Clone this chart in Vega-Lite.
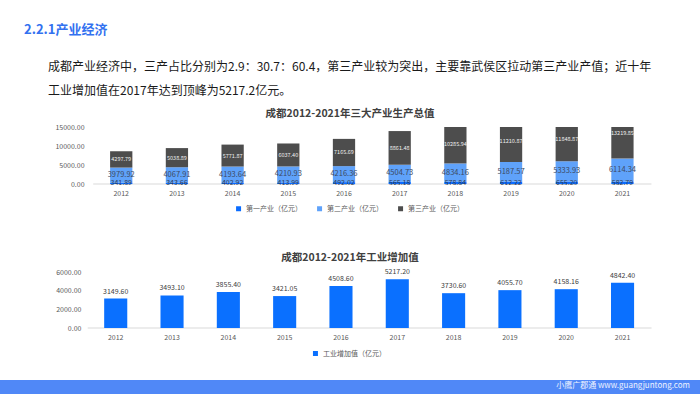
{
  "$schema": "https://vega.github.io/schema/vega-lite/v6.json",
  "padding": {"left": 0, "right": 0, "top": 24, "bottom": 0},
  "background": "white",
  "datasets": {
    "gdp": [
      {"year": "2012", "industry": "第一产业（亿元）", "value": 341.89},
      {"year": "2012", "industry": "第二产业（亿元）", "value": 3979.92},
      {"year": "2012", "industry": "第三产业（亿元）", "value": 4297.79},
      {"year": "2013", "industry": "第一产业（亿元）", "value": 343.66},
      {"year": "2013", "industry": "第二产业（亿元）", "value": 4067.91},
      {"year": "2013", "industry": "第三产业（亿元）", "value": 5038.89},
      {"year": "2014", "industry": "第一产业（亿元）", "value": 402.92},
      {"year": "2014", "industry": "第二产业（亿元）", "value": 4193.64},
      {"year": "2014", "industry": "第三产业（亿元）", "value": 5771.87},
      {"year": "2015", "industry": "第一产业（亿元）", "value": 413.99},
      {"year": "2015", "industry": "第二产业（亿元）", "value": 4210.93},
      {"year": "2015", "industry": "第三产业（亿元）", "value": 6037.40},
      {"year": "2016", "industry": "第一产业（亿元）", "value": 492.02},
      {"year": "2016", "industry": "第二产业（亿元）", "value": 4216.36},
      {"year": "2016", "industry": "第三产业（亿元）", "value": 7165.69},
      {"year": "2017", "industry": "第一产业（亿元）", "value": 565.18},
      {"year": "2017", "industry": "第二产业（亿元）", "value": 4504.73},
      {"year": "2017", "industry": "第三产业（亿元）", "value": 8861.48},
      {"year": "2018", "industry": "第一产业（亿元）", "value": 578.84},
      {"year": "2018", "industry": "第二产业（亿元）", "value": 4834.16},
      {"year": "2018", "industry": "第三产业（亿元）", "value": 10285.94},
      {"year": "2019", "industry": "第一产业（亿元）", "value": 612.22},
      {"year": "2019", "industry": "第二产业（亿元）", "value": 5187.57},
      {"year": "2019", "industry": "第三产业（亿元）", "value": 11210.87},
      {"year": "2020", "industry": "第一产业（亿元）", "value": 655.20},
      {"year": "2020", "industry": "第二产业（亿元）", "value": 5333.93},
      {"year": "2020", "industry": "第三产业（亿元）", "value": 11848.87},
      {"year": "2021", "industry": "第一产业（亿元）", "value": 582.79},
      {"year": "2021", "industry": "第二产业（亿元）", "value": 6114.34},
      {"year": "2021", "industry": "第三产业（亿元）", "value": 13219.85}
    ],
    "industrial": [
      {"year": "2012", "series": "工业增加值（亿元）", "value": 3149.60},
      {"year": "2013", "series": "工业增加值（亿元）", "value": 3493.10},
      {"year": "2014", "series": "工业增加值（亿元）", "value": 3855.40},
      {"year": "2015", "series": "工业增加值（亿元）", "value": 3421.05},
      {"year": "2016", "series": "工业增加值（亿元）", "value": 4508.60},
      {"year": "2017", "series": "工业增加值（亿元）", "value": 5217.20},
      {"year": "2018", "series": "工业增加值（亿元）", "value": 3730.60},
      {"year": "2019", "series": "工业增加值（亿元）", "value": 4055.70},
      {"year": "2020", "series": "工业增加值（亿元）", "value": 4158.16},
      {"year": "2021", "series": "工业增加值（亿元）", "value": 4842.40}
    ],
    "page": [
      {"site": "小鹰广郡通 www.guangjuntong.com"}
    ]
  },
  "spacing": 23,
  "center": true,
  "resolve": {"scale": {"color": "independent"}},
  "vconcat": [
    {
      "spacing": 0,
      "center": true,
      "resolve": {"scale": {"color": "independent"}},
      "vconcat": [
        {
          "width": 700,
          "height": 1,
          "data": {"name": "page"},
          "title": {"text": "2.2.1产业经济", "anchor": "start", "frame": "group", "dx": 24, "fontSize": 13, "fontWeight": "bold", "color": "#3271f0", "offset": 23},
          "mark": {"type": "rect", "opacity": 0},
          "encoding": {}
        },
        {
          "width": 700,
          "height": 1,
          "data": {"name": "page"},
          "title": {
            "text": ["成都产业经济中，三产占比分别为2.9：30.7：60.4，第三产业较为突出，主要靠武侯区拉动第三产业产值；近十年", "工业增加值在2017年达到顶峰为5217.2亿元。"],
            "anchor": "start", "frame": "group", "dx": 48, "fontSize": 12, "fontWeight": "normal", "color": "#1a1a1a", "lineHeight": 24, "offset": 9
          },
          "mark": {"type": "rect", "opacity": 0},
          "encoding": {}
        },
        {
          "width": 602,
          "height": 57,
          "title": {"text": "成都2012-2021年三大产业生产总值", "fontSize": 10.5, "fontWeight": "bold", "color": "#404040", "anchor": "middle", "frame": "bounds", "offset": 4},
          "data": {"name": "gdp"},
          "transform": [
            {"calculate": "indexof(['第一产业（亿元）','第二产业（亿元）','第三产业（亿元）'], datum.industry)", "as": "k"},
            {"stack": "value", "groupby": ["year"], "sort": [{"field": "k", "order": "ascending"}], "as": ["v0", "v1"]},
            {"calculate": "(datum.v0 + datum.v1) / 2", "as": "vm"}
          ],
          "encoding": {
            "x": {
              "field": "year", "type": "ordinal",
              "scale": {"paddingInner": 0.6, "paddingOuter": 0.705, "align": 0.79},
              "axis": {"title": null, "labelAngle": 0, "ticks": false, "domain": false, "labelPadding": 5}
            }
          },
          "layer": [
            {
              "data": {"name": "page"},
              "mark": {"type": "rule", "color": "#d9d9d9", "xOffset": -28, "x2Offset": 29},
              "encoding": {
                "x": {"datum": "2012", "type": "ordinal"},
                "x2": {"datum": "2021"},
                "y": {"datum": 0, "type": "quantitative", "axis": {"title": null, "values": [0, 5000, 10000, 15000], "format": ".2f", "grid": false, "domain": false, "ticks": false, "labelPadding": 3, "offset": -39, "labelOverlap": false}}
              }
            },
            {
              "mark": {"type": "bar", "clip": true},
              "encoding": {
                "y": {
                  "field": "v1", "type": "quantitative",
                  "scale": {"domain": [0, 15000], "nice": false},
                  "axis": {"title": null, "values": [0, 5000, 10000, 15000], "format": ".2f", "grid": false, "domain": false, "ticks": false, "labelPadding": 3, "offset": -39, "labelOverlap": false}
                },
                "y2": {"field": "v0"},
                "color": {
                  "field": "industry", "type": "nominal",
                  "scale": {"domain": ["第一产业（亿元）", "第二产业（亿元）", "第三产业（亿元）"], "range": ["#0a6cff", "#5fa2fa", "#4d4d4d"]},
                  "legend": {"orient": "bottom", "direction": "horizontal", "title": null, "symbolType": "square", "symbolSize": 25, "labelFontSize": 7, "labelColor": "#595959", "columnPadding": 14, "offset": 9}
                }
              }
            },
            {
              "transform": [{"filter": "datum.k == 0"}],
              "mark": {"type": "text", "fontSize": 7, "color": "#2e3b55", "baseline": "middle"},
              "encoding": {
                "y": {"field": "vm", "type": "quantitative", "axis": {"title": null, "values": [0, 5000, 10000, 15000], "format": ".2f", "grid": false, "domain": false, "ticks": false, "labelPadding": 3, "offset": -39, "labelOverlap": false}},
                "text": {"field": "value", "type": "quantitative", "format": ".2f"}
              }
            },
            {
              "transform": [{"filter": "datum.k == 1"}],
              "mark": {"type": "text", "fontSize": 7.5, "color": "#3d4a63", "baseline": "middle"},
              "encoding": {
                "y": {"field": "vm", "type": "quantitative", "axis": {"title": null, "values": [0, 5000, 10000, 15000], "format": ".2f", "grid": false, "domain": false, "ticks": false, "labelPadding": 3, "offset": -39, "labelOverlap": false}},
                "text": {"field": "value", "type": "quantitative", "format": ".2f"}
              }
            },
            {
              "transform": [{"filter": "datum.k == 2"}],
              "mark": {"type": "text", "fontSize": 5.5, "color": "#f0f0f0", "baseline": "middle"},
              "encoding": {
                "y": {"field": "vm", "type": "quantitative", "axis": {"title": null, "values": [0, 5000, 10000, 15000], "format": ".2f", "grid": false, "domain": false, "ticks": false, "labelPadding": 3, "offset": -39, "labelOverlap": false}},
                "text": {"field": "value", "type": "quantitative", "format": ".2f"}
              }
            }
          ]
        },
        {
          "width": 1,
          "height": 40,
          "data": {"name": "page"},
          "mark": {"type": "rect", "opacity": 0},
          "encoding": {}
        },
        {
          "width": 602,
          "height": 56,
          "title": {"text": "成都2012-2021年工业增加值", "fontSize": 10.5, "fontWeight": "bold", "color": "#404040", "anchor": "middle", "frame": "bounds", "offset": 5},
          "data": {"name": "industrial"},
          "encoding": {
            "x": {
              "field": "year", "type": "ordinal",
              "scale": {"paddingInner": 0.59, "paddingOuter": 0.64, "align": 0.78},
              "axis": {"title": null, "labelAngle": 0, "ticks": false, "domain": false, "labelPadding": 5}
            }
          },
          "layer": [
            {
              "data": {"name": "page"},
              "mark": {"type": "rule", "color": "#d9d9d9", "xOffset": -28, "x2Offset": 29},
              "encoding": {
                "x": {"datum": "2012", "type": "ordinal"},
                "x2": {"datum": "2021"},
                "y": {"datum": 0, "type": "quantitative", "axis": {"title": null, "values": [0, 2000, 4000, 6000], "format": ".2f", "grid": false, "domain": false, "ticks": false, "labelPadding": 3, "offset": -36, "labelOverlap": false}}
              }
            },
            {
              "mark": {"type": "bar"},
              "encoding": {
                "y": {
                  "field": "value", "type": "quantitative",
                  "scale": {"domain": [0, 6000], "nice": false},
                  "axis": {"title": null, "values": [0, 2000, 4000, 6000], "format": ".2f", "grid": false, "domain": false, "ticks": false, "labelPadding": 3, "offset": -36, "labelOverlap": false}
                },
                "color": {
                  "field": "series", "type": "nominal",
                  "scale": {"range": ["#0a70ff"]},
                  "legend": {"orient": "bottom", "direction": "horizontal", "title": null, "symbolType": "square", "symbolSize": 25, "labelFontSize": 7, "labelColor": "#595959", "offset": 10}
                }
              }
            },
            {
              "mark": {"type": "text", "fontSize": 7, "color": "#404040", "baseline": "bottom", "dy": -4},
              "encoding": {
                "y": {"field": "value", "type": "quantitative", "axis": {"title": null, "values": [0, 2000, 4000, 6000], "format": ".2f", "grid": false, "domain": false, "ticks": false, "labelPadding": 3, "offset": -36, "labelOverlap": false}},
                "text": {"field": "value", "type": "quantitative", "format": ".2f"}
              }
            }
          ]
        }
      ]
    },
    {
      "width": 700,
      "height": 14,
      "data": {"name": "page"},
      "title": {"text": "小鹰广郡通 www.guangjuntong.com", "orient": "bottom", "anchor": "end", "frame": "group", "offset": -12, "dx": -10, "fontSize": 8, "fontWeight": "normal", "color": "#eef3ff"},
      "mark": {"type": "rect", "color": "#5088f7"},
      "encoding": {}
    }
  ],
  "config": {
    "font": "Noto Sans CJK SC",
    "view": {"stroke": null},
    "axis": {"labelFontSize": 7, "labelColor": "#595959", "labelFont": "Noto Sans CJK SC"},
    "legend": {"labelFont": "Noto Sans CJK SC", "layout": {"bottom": {"anchor": "middle"}}},
    "text": {"font": "Noto Sans CJK SC"}
  }
}
